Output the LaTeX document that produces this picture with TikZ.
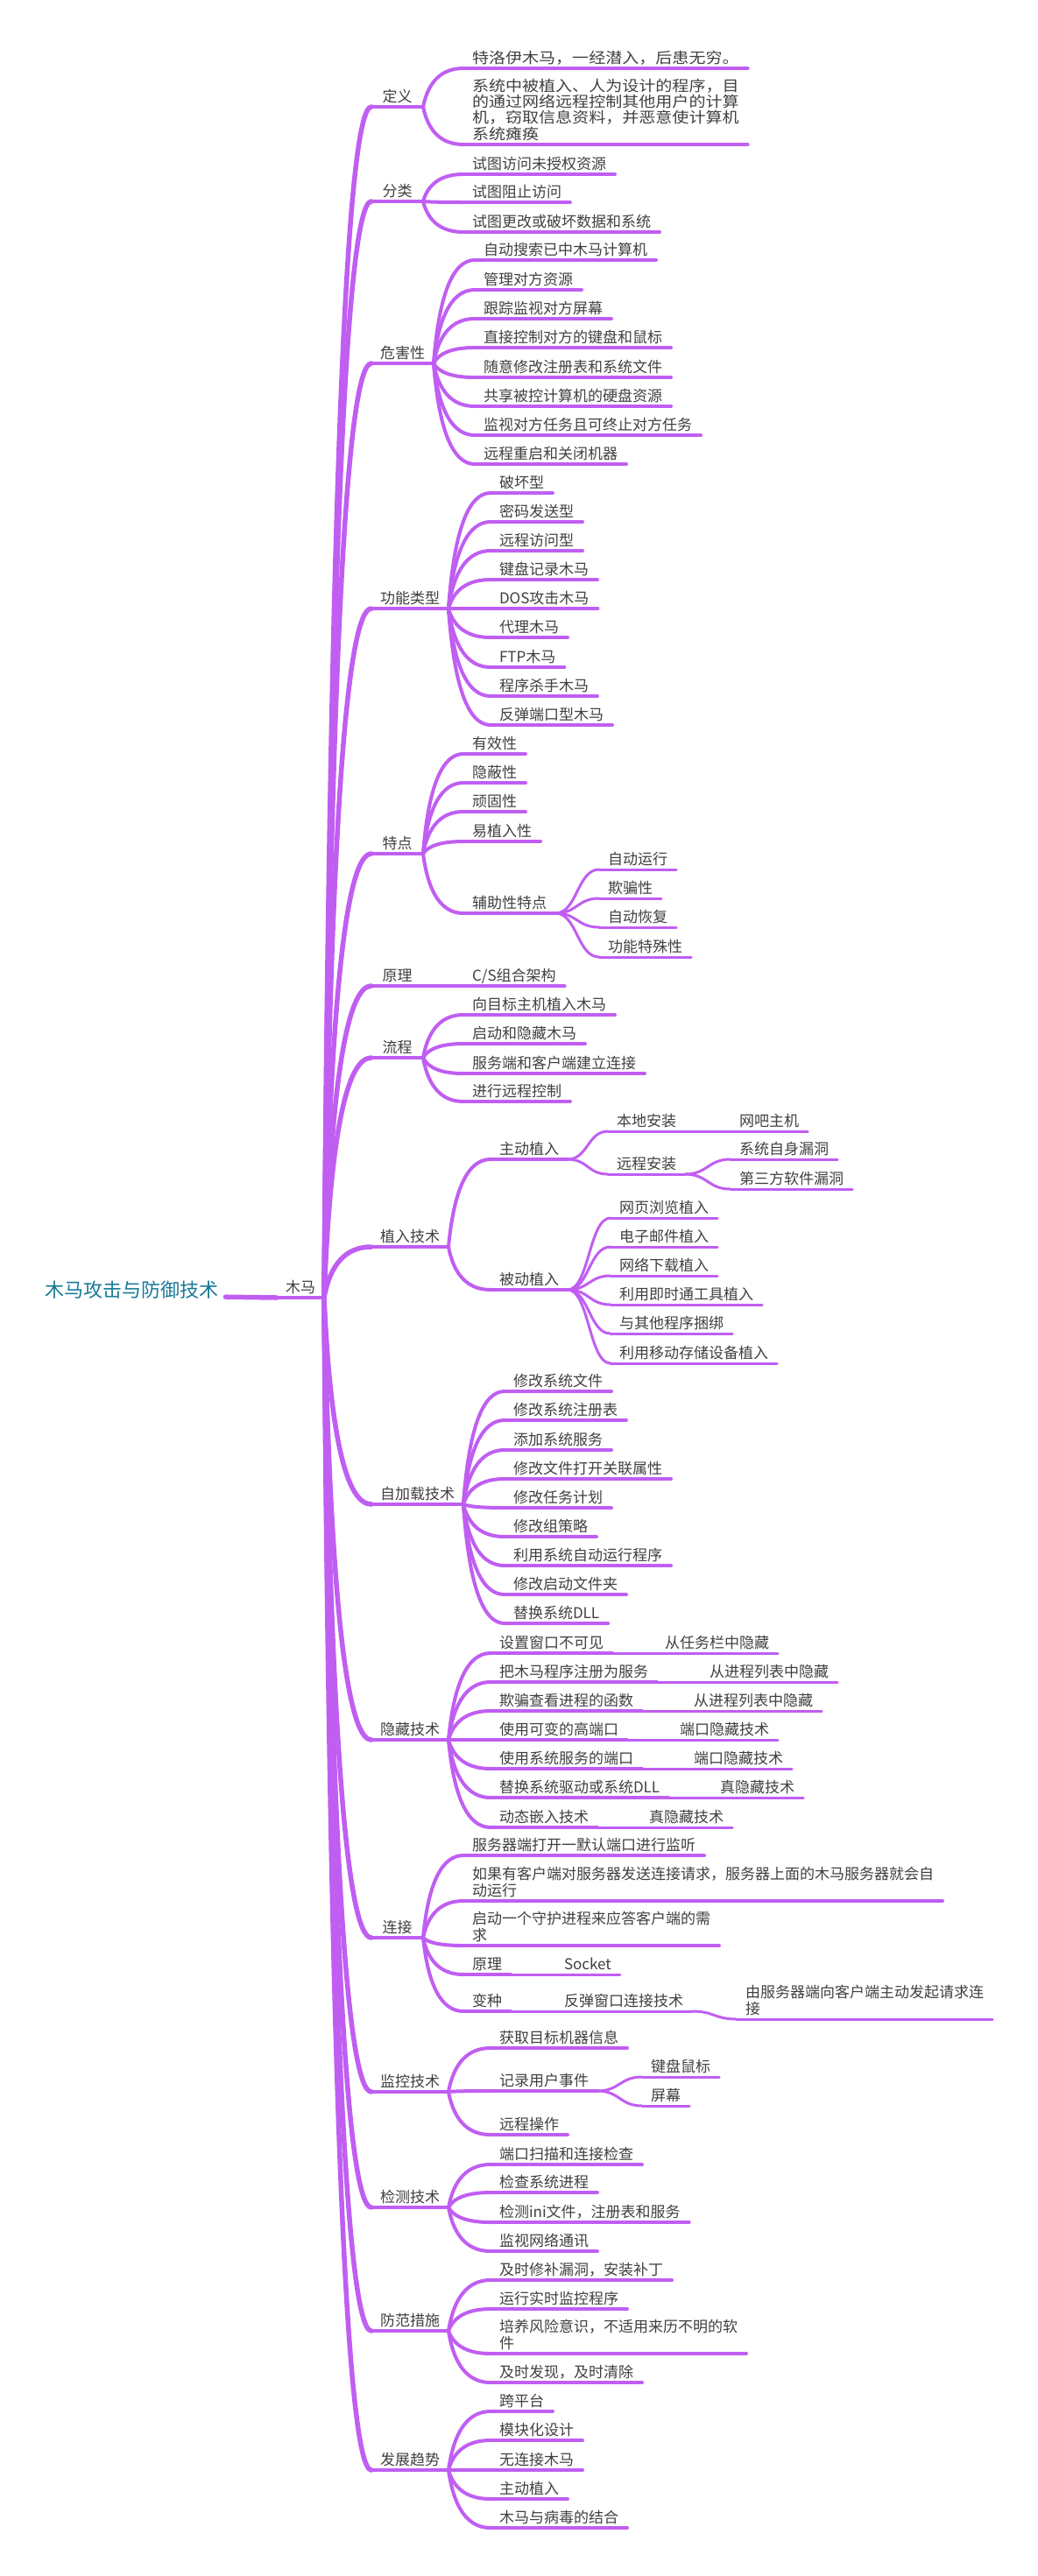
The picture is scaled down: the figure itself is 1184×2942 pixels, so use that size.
\documentclass[tikz,border=0pt]{standalone}
\usepackage{fontspec}
\newfontfamily\cjk{Noto Sans CJK SC}
\newfontfamily\cjkw[FakeStretch=1.12]{Noto Sans CJK SC}
\usetikzlibrary{calc}
\definecolor{pur}{RGB}{192,94,242}
\definecolor{txt}{RGB}{64,64,64}
\definecolor{rootc}{RGB}{22,122,150}
\newcommand\mmfont{\cjk\fontsize{17}{18.3}\selectfont}
\newcommand\mmwide{\cjkw\fontsize{17}{18.3}\selectfont}
\tikzset{
 mm/.style={anchor=south west, inner xsep=10pt, inner ysep=0pt, outer sep=0pt, align=left, font=\mmfont, text=txt},
 lv2/.style={minimum width=59pt},
 u2/.style={draw=pur, line width=4.5pt, line cap=round},
 u3/.style={draw=pur, line width=4pt, line cap=round},
 u4/.style={draw=pur, line width=3pt, line cap=round},
 c1/.style={draw=pur, line width=5.5pt, line cap=round},
 c2/.style={draw=pur, line width=4pt, line cap=round},
 c3/.style={draw=pur, line width=3pt, line cap=round},
}
\newcommand\nd[5][u3]{\node[mm] (#2) at (#3,#4) {#5\rule[-6pt]{0pt}{6pt}};\draw[#1] (#2.south west) -- (#2.south east);}
\newcommand\ndw[4]{\node[mm,font=\mmwide] (#1) at (#2,#3) {#4\rule[-6pt]{0pt}{6pt}};\draw[u3] (#1.south west) -- (#1.south east);}
\newcommand\ndt[4]{\node[mm,lv2] (#1) at (#2,#3) {#4\rule[-6pt]{0pt}{6pt}};\draw[u2] (#1.south west) -- (#1.south east);}
\newcommand\mmq[3][c2]{\draw[#1] let \p1=(#2.south east), \p2=(#3.south west) in (\p1) .. controls ({\x1+0.13*(\x2-\x1)},{\y1+0.67*(\y2-\y1)}) and ({\x1+0.47*(\x2-\x1)},\y2) .. (\p2);}
\newcommand\mms[3][c3]{\draw[#1] let \p1=(#2.south east), \p2=(#3.south west) in (\p1) .. controls ({0.5*(\x1+\x2)},\y1) and ({0.5*(\x1+\x2)},\y2) .. (\p2);}
\begin{document}
\begin{tikzpicture}[x=1pt,y=-1pt]
\fill[white] (0,0) rectangle (1184,2942);
\useasboundingbox (0,0) rectangle (1184,2942);
% root
\node[font=\cjk\fontsize{22}{26}\selectfont, text=rootc, anchor=base west, inner xsep=8pt, inner ysep=0pt, text depth=0pt] (root) at (43,1481) {木马攻击与防御技术};
\nd[u2]{trunk}{316}{1482}{木马}
\draw[c1] (root.south east) -- (trunk.south west);
% level 2
\ndt{def}{424}{122}{定义}
\ndt{cls}{424}{230}{分类}
\ndt{harm}{424}{415}{危害性}
\ndt{func}{424}{695}{功能类型}
\ndt{feat}{424}{975}{特点}
\ndt{prin}{424}{1126}{原理}
\ndt{flow}{424}{1208}{流程}
\ndt{impl}{424}{1424}{植入技术}
\ndt{auto}{424}{1718}{自加载技术}
\ndt{hide}{424}{1987}{隐藏技术}
\ndt{conn}{424}{2213}{连接}
\ndt{moni}{424}{2389}{监控技术}
\ndt{dete}{424}{2521}{检测技术}
\ndt{defe}{424}{2662}{防范措施}
\ndt{tren}{424}{2821}{发展趋势}
\foreach \c in {def,cls,harm,func,feat,prin,flow,impl,auto,hide,conn,moni,dete,defe,tren} {\mmq[c1]{trunk}{\c}}
% 定义
\ndw{def1}{529}{78}{特洛伊木马，一经潜入，后患无穷。}
\ndw{def2}{529}{165}{系统中被植入、人为设计的程序，目\\的通过网络远程控制其他用户的计算\\机，窃取信息资料，并恶意使计算机\\系统瘫痪}
\foreach \c in {def1,def2} {\mmq{def}{\c}}
% 分类
\nd{cls1}{529}{199}{试图访问未授权资源}
\nd{cls2}{529}{231}{试图阻止访问}
\nd{cls3}{529}{265}{试图更改或破坏数据和系统}
\foreach \c in {cls1,cls2,cls3} {\mmq{cls}{\c}}
% 危害性
\nd{harm1}{542}{297}{自动搜索已中木马计算机}
\nd{harm2}{542}{331}{管理对方资源}
\nd{harm3}{542}{364}{跟踪监视对方屏幕}
\nd{harm4}{542}{397}{直接控制对方的键盘和鼠标}
\nd{harm5}{542}{431}{随意修改注册表和系统文件}
\nd{harm6}{542}{464}{共享被控计算机的硬盘资源}
\nd{harm7}{542}{497}{监视对方任务且可终止对方任务}
\nd{harm8}{542}{530}{远程重启和关闭机器}
\foreach \c in {harm1,harm2,harm3,harm4,harm5,harm6,harm7,harm8} {\mmq{harm}{\c}}
% 功能类型
\nd{func1}{560}{563}{破坏型}
\nd{func2}{560}{596}{密码发送型}
\nd{func3}{560}{629}{远程访问型}
\nd{func4}{560}{662}{键盘记录木马}
\nd{func5}{560}{695}{DOS攻击木马}
\nd{func6}{560}{728}{代理木马}
\nd{func7}{560}{762}{FTP木马}
\nd{func8}{560}{795}{程序杀手木马}
\nd{func9}{560}{828}{反弹端口型木马}
\foreach \c in {func1,func2,func3,func4,func5,func6,func7,func8,func9} {\mmq{func}{\c}}
% 特点
\nd{feat1}{529}{861}{有效性}
\nd{feat2}{529}{894}{隐蔽性}
\nd{feat3}{529}{927}{顽固性}
\nd{feat4}{529}{961}{易植入性}
\nd{feat5}{529}{1043}{辅助性特点}
\foreach \c in {feat1,feat2,feat3,feat4,feat5} {\mmq{feat}{\c}}
\nd[u4]{aux1}{684}{993}{自动运行}
\nd[u4]{aux2}{684}{1026}{欺骗性}
\nd[u4]{aux3}{684}{1059}{自动恢复}
\nd[u4]{aux4}{684}{1093}{功能特殊性}
\foreach \c in {aux1,aux2,aux3,aux4} {\mms{feat5}{\c}}
% 原理
\nd{prin1}{529}{1126}{C/S组合架构}
\mmq{prin}{prin1}
% 流程
\nd{flow1}{529}{1159}{向目标主机植入木马}
\nd{flow2}{529}{1192}{启动和隐藏木马}
\nd{flow3}{529}{1226}{服务端和客户端建立连接}
\nd{flow4}{529}{1258}{进行远程控制}
\foreach \c in {flow1,flow2,flow3,flow4} {\mmq{flow}{\c}}
% 植入技术
\nd{act}{560}{1324}{主动植入}
\nd{pas}{560}{1473}{被动植入}
\foreach \c in {act,pas} {\mmq{impl}{\c}}
\nd[u4]{loc}{694}{1292}{本地安装}
\nd[u4]{rem}{694}{1341}{远程安装}
\foreach \c in {loc,rem} {\mms{act}{\c}}
\nd[u4]{loc1}{834}{1292}{网吧主机}
\mms{loc}{loc1}
\nd[u4]{rem1}{834}{1324}{系统自身漏洞}
\nd[u4]{rem2}{834}{1358}{第三方软件漏洞}
\foreach \c in {rem1,rem2} {\mms{rem}{\c}}
\nd[u4]{pas1}{697}{1391}{网页浏览植入}
\nd[u4]{pas2}{697}{1424}{电子邮件植入}
\nd[u4]{pas3}{697}{1457}{网络下载植入}
\nd[u4]{pas4}{697}{1490}{利用即时通工具植入}
\nd[u4]{pas5}{697}{1523}{与其他程序捆绑}
\nd[u4]{pas6}{697}{1557}{利用移动存储设备植入}
\foreach \c in {pas1,pas2,pas3,pas4,pas5,pas6} {\mms{pas}{\c}}
% 自加载技术
\nd{auto1}{576}{1589}{修改系统文件}
\nd{auto2}{576}{1622}{修改系统注册表}
\nd{auto3}{576}{1656}{添加系统服务}
\nd{auto4}{576}{1689}{修改文件打开关联属性}
\nd{auto5}{576}{1722}{修改任务计划}
\nd{auto6}{576}{1755}{修改组策略}
\nd{auto7}{576}{1788}{利用系统自动运行程序}
\nd{auto8}{576}{1821}{修改启动文件夹}
\nd{auto9}{576}{1854}{替换系统DLL}
\foreach \c in {auto1,auto2,auto3,auto4,auto5,auto6,auto7,auto8,auto9} {\mmq{auto}{\c}}
% 隐藏技术
\nd{hid1}{560}{1888}{设置窗口不可见}
\nd{hid2}{560}{1921}{把木马程序注册为服务}
\nd{hid3}{560}{1954}{欺骗查看进程的函数}
\nd{hid4}{560}{1987}{使用可变的高端口}
\nd{hid5}{560}{2020}{使用系统服务的端口}
\nd{hid6}{560}{2053}{替换系统驱动或系统DLL}
\nd{hid7}{560}{2087}{动态嵌入技术}
\foreach \c in {hid1,hid2,hid3,hid4,hid5,hid6,hid7} {\mmq{hide}{\c}}
\nd[u4]{hidA}{749}{1888}{从任务栏中隐藏}
\nd[u4]{hidB}{800}{1921}{从进程列表中隐藏}
\nd[u4]{hidC}{782}{1954}{从进程列表中隐藏}
\nd[u4]{hidD}{766}{1987}{端口隐藏技术}
\nd[u4]{hidE}{782}{2020}{端口隐藏技术}
\nd[u4]{hidF}{812}{2053}{真隐藏技术}
\nd[u4]{hidG}{731}{2087}{真隐藏技术}
\mms{hid1}{hidA}\mms{hid2}{hidB}\mms{hid3}{hidC}\mms{hid4}{hidD}\mms{hid5}{hidE}\mms{hid6}{hidF}\mms{hid7}{hidG}
% 连接
\nd{con1}{529}{2119}{服务器端打开一默认端口进行监听}
\nd{con2}{529}{2171}{如果有客户端对服务器发送连接请求，服务器上面的木马服务器就会自\\动运行}
\nd{con3}{529}{2222}{启动一个守护进程来应答客户端的需\\求}
\nd{con4}{529}{2255}{原理}
\nd{con5}{529}{2297}{变种}
\foreach \c in {con1,con2,con3,con4,con5} {\mmq{conn}{\c}}
\nd[u4]{sock}{634}{2255}{Socket}
\mms{con4}{sock}
\nd[u4]{rev}{634}{2297}{反弹窗口连接技术}
\mms{con5}{rev}
\nd[u4]{rev1}{841}{2306}{由服务器端向客户端主动发起请求连\\接}
\mms{rev}{rev1}
% 监控技术
\nd{mon1}{560}{2339}{获取目标机器信息}
\nd{mon2}{560}{2388}{记录用户事件}
\nd{mon3}{560}{2438}{远程操作}
\foreach \c in {mon1,mon2,mon3} {\mmq{moni}{\c}}
\nd[u4]{key}{733}{2372}{键盘鼠标}
\nd[u4]{scr}{733}{2405}{屏幕}
\mms{mon2}{key}\mms{mon2}{scr}
% 检测技术
\nd{det1}{560}{2472}{端口扫描和连接检查}
\nd{det2}{560}{2504}{检查系统进程}
\nd{det3}{560}{2538}{检测ini文件，注册表和服务}
\nd{det4}{560}{2571}{监视网络通讯}
\foreach \c in {det1,det2,det3,det4} {\mmq{dete}{\c}}
% 防范措施
\nd{dfs1}{560}{2604}{及时修补漏洞，安装补丁}
\nd{dfs2}{560}{2637}{运行实时监控程序}
\nd{dfs3}{560}{2688}{培养风险意识，不适用来历不明的软\\件}
\nd{dfs4}{560}{2721}{及时发现，及时清除}
\foreach \c in {dfs1,dfs2,dfs3,dfs4} {\mmq{defe}{\c}}
% 发展趋势
\nd{tr1}{560}{2754}{跨平台}
\nd{tr2}{560}{2787}{模块化设计}
\nd{tr3}{560}{2821}{无连接木马}
\nd{tr4}{560}{2854}{主动植入}
\nd{tr5}{560}{2887}{木马与病毒的结合}
\foreach \c in {tr1,tr2,tr3,tr4,tr5} {\mmq{tren}{\c}}
\end{tikzpicture}
\end{document}
